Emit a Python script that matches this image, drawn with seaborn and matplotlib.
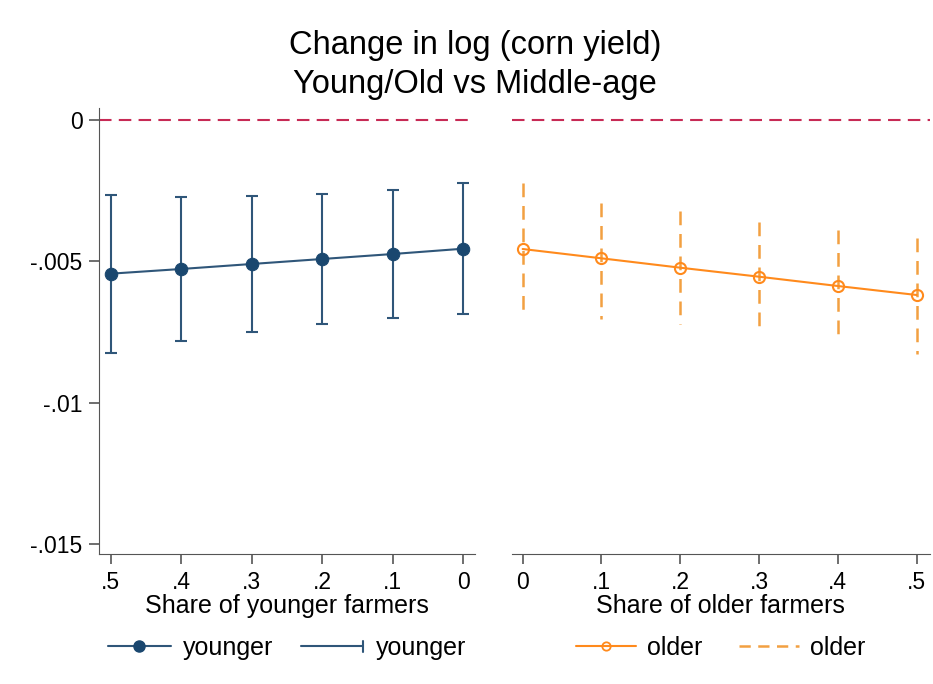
import numpy as np
import pandas as pd
import seaborn as sns
import matplotlib.pyplot as plt
from matplotlib.lines import Line2D
from matplotlib.legend_handler import HandlerBase

# valores
young_share = [0.5, 0.4, 0.3, 0.2, 0.1, 0.0]
young_coef = [-0.005437, -0.005271, -0.005094, -0.004917, -0.004741, -0.004553]
young_hi = [-0.002664, -0.002713, -0.002689, -0.002618, -0.002466, -0.002229]
young_lo = [-0.008232, -0.007829, -0.007489, -0.007206, -0.007015, -0.006874]

old_share = [0.0, 0.1, 0.2, 0.3, 0.4, 0.5]
old_coef = [-0.004564, -0.004893, -0.005225, -0.005544, -0.005873, -0.006191]
old_hi = [-0.002239, -0.002947, -0.003219, -0.003608, -0.003903, -0.004163]
old_lo = [-0.006874, -0.007029, -0.007228, -0.007489, -0.007843, -0.008278]

x_labels = ['0', '.1', '.2', '.3', '.4', '.5']
y_ticks = [0, -0.005, -0.01, -0.015]
y_labels = ['0', '-.005', '-.01', '-.015']

navy = '#1a476f'
navy_line = '#2f5679'
orange = '#ff8a1c'
orange_ci = '#f2a041'
ref_color = '#c72a55'
axis_color = '#555555'

sns.set_style('ticks')
plt.rcParams['font.family'] = ['Liberation Sans', 'DejaVu Sans']
plt.rcParams['text.color'] = 'black'
plt.rcParams['axes.labelcolor'] = 'black'


# simbolo da legenda do intervalo (linha com barrinha no fim)
class CapHandler(HandlerBase):
    def create_artists(self, legend, orig_handle, xdescent, ydescent,
                       width, height, fontsize, trans):
        y = height / 2 - ydescent
        x0 = -xdescent
        x1 = width - xdescent
        line = Line2D([x0, x1], [y, y], color=orig_handle.get_color(), lw=1.5)
        cap = Line2D([x1, x1], [y - 4, y + 4], color=orig_handle.get_color(), lw=1.5)
        line.set_transform(trans)
        cap.set_transform(trans)
        return [line, cap]


fig = plt.figure(figsize=(9.33, 6.84), dpi=100)
ax1 = fig.add_axes([0.1064, 0.1901, 0.4027, 0.6520])
ax2 = fig.add_axes([0.5484, 0.1901, 0.4483, 0.6520], sharey=ax1)

df_young = pd.DataFrame({'share': young_share, 'coef': young_coef})
df_old = pd.DataFrame({'share': old_share, 'coef': old_coef})

# painel da esquerda: mais jovens
c = np.array(young_coef)
ax1.errorbar(young_share, young_coef,
             yerr=[c - np.array(young_lo), np.array(young_hi) - c],
             fmt='none', ecolor=navy_line, elinewidth=1.5, capsize=4, capthick=1.5, zorder=2)
sns.lineplot(data=df_young, x='share', y='coef', ax=ax1, color=navy_line, linewidth=1.5,
             marker='o', markersize=9, markerfacecolor=navy, markeredgecolor=navy, zorder=3)

# painel da direita: mais velhos (tracejado comeca no topo)
ax2.vlines(old_share, old_hi, old_lo, colors=orange_ci, linewidth=1.8,
           linestyles=(0, (5.5, 3.5)), zorder=2)
sns.lineplot(data=df_old, x='share', y='coef', ax=ax2, color=orange, linewidth=1.5,
             marker='o', markersize=8, markerfacecolor='none', markeredgecolor=orange,
             markeredgewidth=1.5, zorder=3)

for ax in (ax1, ax2):
    ax.axhline(0, color=ref_color, linewidth=1.5, linestyle=(0, (6, 3.5)), zorder=1)
    ax.spines['top'].set_visible(False)
    ax.spines['right'].set_visible(False)
    ax.spines['bottom'].set_color(axis_color)
    ax.spines['left'].set_color(axis_color)
    ax.tick_params(axis='both', colors=axis_color, labelcolor='black', labelsize=16.5,
                   length=7, width=1.2, pad=5)
    ax.set_xticks(old_share)
    ax.set_xticklabels(x_labels)

ax1.set_ylim(-0.015354, 0.000425)
ax1.set_yticks(y_ticks)
ax1.set_yticklabels(y_labels)
ax1.set_xlim(0.5162, -0.0166)
ax2.set_xlim(-0.01396, 0.5169)
ax2.spines['left'].set_visible(False)
ax2.tick_params(axis='y', left=False, labelleft=False)

ax1.set_xlabel('Share of younger farmers', fontsize=18, labelpad=0)
ax2.set_xlabel('Share of older farmers', fontsize=18, labelpad=0)
ax1.set_ylabel('')
ax2.set_ylabel('')

# titulo
fig.text(0.509, 0.934, 'Change in log (corn yield)', ha='center', va='center', fontsize=23.5)
fig.text(0.509, 0.876, 'Young/Old vs Middle-age', ha='center', va='center', fontsize=23.5)

# legendas
h_young = Line2D([], [], color=navy_line, lw=1.5, marker='o', markersize=8,
                 markerfacecolor=navy, markeredgecolor=navy)
h_young_ci = Line2D([], [], color=navy_line, lw=1.5)
ax1.legend(handles=[h_young, h_young_ci], labels=['younger', 'younger'],
           handler_map={h_young_ci: CapHandler()}, loc='center',
           bbox_to_anchor=(0.5, -0.2108), ncol=2, frameon=False, fontsize=18,
           handlelength=2.5, handletextpad=0.5, columnspacing=1.1)

h_old = Line2D([], [], color=orange, lw=1.5, marker='o', markersize=6,
               markerfacecolor='none', markeredgecolor=orange, markeredgewidth=1.3)
h_old_ci = Line2D([], [], color=orange_ci, lw=1.8, linestyle=(0, (4.5, 3)))
ax2.legend(handles=[h_old, h_old_ci], labels=['older', 'older'], loc='center',
           bbox_to_anchor=(0.5, -0.2108), ncol=2, frameon=False, fontsize=18,
           handlelength=2.4, handletextpad=0.45, columnspacing=1.45)

fig.savefig('out.png', dpi=100)
plt.close()
